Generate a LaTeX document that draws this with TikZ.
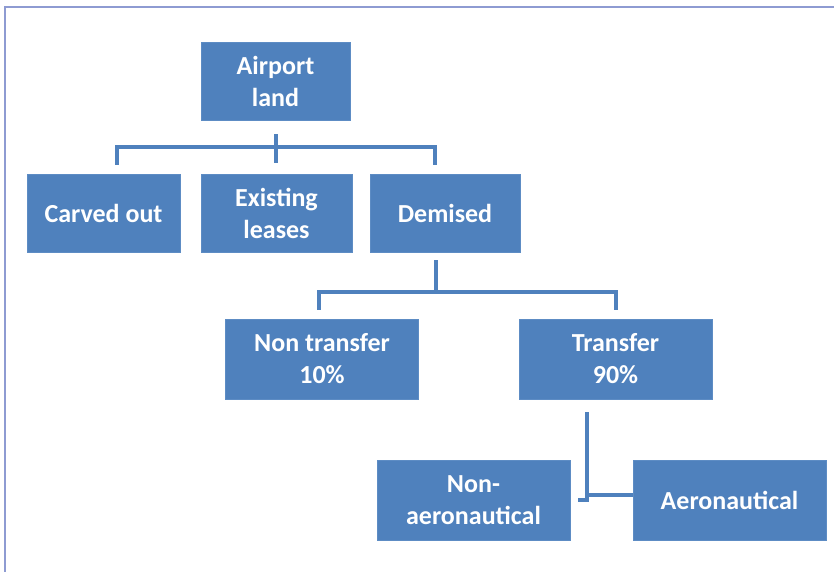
\documentclass[tikz,border=0pt]{standalone}
\usepackage{fontspec}
\setmainfont{Carlito}
\usetikzlibrary{calc}
\definecolor{boxblue}{HTML}{4F81BD}
\definecolor{boxedge}{HTML}{5D8CC4}
\definecolor{framec}{HTML}{8E9BD2}
\tikzset{
  blockbox/.style={rectangle, fill=boxblue, draw=boxedge, line width=0.8pt, text=white,
    font=\fontsize{26}{32}\selectfont\bfseries, align=center, inner sep=0pt},
  smallbox/.style={blockbox, minimum height=78pt},
  bigbox/.style={blockbox, minimum width=193pt, minimum height=80pt},
  link/.style={draw=boxblue, line width=4pt}
}
\begin{document}
\begin{tikzpicture}[x=1pt,y=-1pt]
\useasboundingbox (0,0) rectangle (834,571);
\fill[white] (0,0) rectangle (834,571);
\draw[framec, line width=2pt] (5,575) -- (5,7) -- (840,7);

\node[smallbox, minimum width=149pt] (air) at (275.5,81) {Airport\\land};
\node[smallbox, minimum width=153pt] (carv) at (103.5,213) {Carved out};
\node[smallbox, minimum width=151pt] (exist) at (276.5,213) {Existing\\leases};
\node[smallbox, minimum width=150pt] (dem) at (445,213) {Demised};
\node[bigbox] (nont) at (322,359) {Non transfer\\10\%};
\node[bigbox] (trans) at (615.5,359) {Transfer\\90\%};
\node[bigbox] (nonaero) at (473.5,500) {Non-\\aeronautical};
\node[bigbox] (aero) at (729.5,500) {Aeronautical};

% Airport land connector
\coordinate (a1) at ($(air.south)+(0.5,14)$);
\coordinate (a2) at ($(air.south)+(0.5,43)$);
\coordinate (aL) at ($(carv.north)+(13.5,-9)$);
\coordinate (aR) at ($(dem.north)+(-10,-9)$);
\draw[link] (a1) -- (a2);
\draw[link] (aL) -- (aL |- 0,147) -- (aR |- 0,147) -- (aR);

% Demised connector
\coordinate (d1) at ($(dem.south)+(-9,8)$);
\coordinate (dL) at ($(nont.north)+(-3,-9)$);
\coordinate (dR) at ($(trans.north)+(0.5,-9)$);
\draw[link] (d1) -- (d1 |- 0,292);
\draw[link] (dL) -- (dL |- 0,292) -- (dR |- 0,292) -- (dR);

% Transfer connector
\coordinate (t1) at ($(trans.south)+(-28.5,13)$);
\coordinate (tb) at (t1 |- 0,500);
\draw[link] (t1) -- (tb) -- ($(nonaero.east)+(8,0)$);
\draw[link] (tb |- 0,495) -- (aero.west |- 0,495);
\end{tikzpicture}
\end{document}
